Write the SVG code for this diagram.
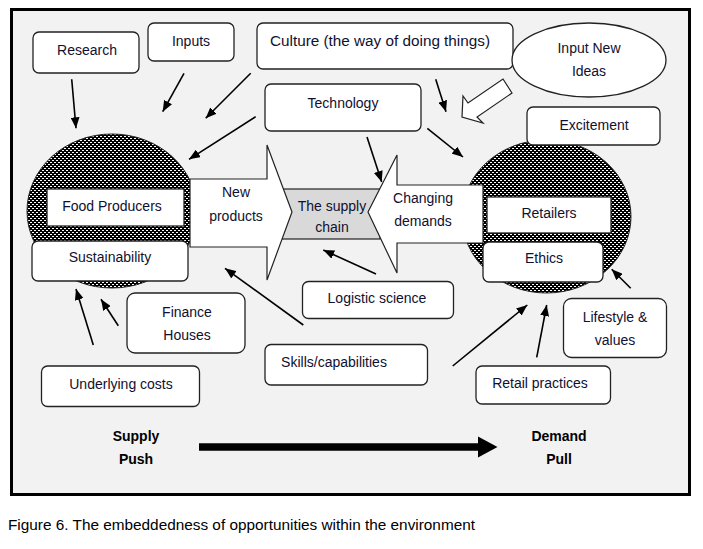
<svg xmlns="http://www.w3.org/2000/svg" width="703" height="549" viewBox="0 0 703 549">
<style>
.box{fill:#fff;stroke:#222;stroke-width:1.3}
.t{font-family:"Liberation Sans",Arial,sans-serif;font-size:14px;fill:#101030;text-anchor:middle}
.b{font-family:"Liberation Sans",Arial,sans-serif;font-size:14px;font-weight:bold;fill:#000;text-anchor:middle}
.con{stroke:#000;stroke-width:1.6;fill:none;marker-end:url(#ah)}
.hat{fill:url(#hatch);stroke:#222;stroke-width:1}
.blk{fill:#fff;stroke:#222;stroke-width:1.2}
</style>
<defs>
<pattern id="hatch" width="4" height="4" patternUnits="userSpaceOnUse">
<rect width="4" height="4" fill="#000"/>
<rect x="0" y="0" width="2" height="1" fill="#fff"/>
<rect x="2" y="2" width="2" height="1" fill="#fff"/>
</pattern>
<marker id="ah" markerWidth="11" markerHeight="9" refX="11" refY="4.5" orient="auto" markerUnits="userSpaceOnUse">
<path d="M0,0 L11,4.5 L0,9 z" fill="#000"/>
</marker>
</defs>
<rect x="0" y="0" width="703" height="549" fill="#fff"/>
<rect id="frame" x="11.5" y="9.5" width="678" height="485" fill="#f2f2f2" stroke="#000" stroke-width="3"/>

<g id="food-ellipse"><ellipse class="hat" cx="112" cy="211" rx="85" ry="77"/></g>
<g id="retail-ellipse"><ellipse class="hat" cx="546.5" cy="216.5" rx="84.5" ry="76.5"/></g>

<g id="supply-chain">
<rect x="282" y="189" width="98" height="50" fill="#d9d9d9" stroke="#222" stroke-width="1.2"/>
</g>
<g id="new-products">
<polygon class="blk" points="190,179 267,179 267,145 292,212 267,280 267,247 190,247"/>
<text class="t" x="236" y="197">New</text>
<text class="t" x="236" y="221">products</text>
</g>
<g id="changing-demands">
<polygon class="blk" points="483,185 397,185 397,155 368,212 397,273 397,243 483,243"/>
<text class="t" x="423" y="203">Changing</text>
<text class="t" x="423" y="226">demands</text>
</g>
<g id="supply-chain-label">
<text class="t" x="332" y="211">The supply</text>
<text class="t" x="332" y="232">chain</text>
</g>

<g id="food-producers"><rect x="47" y="189" width="137" height="37" fill="#fff" stroke="#222" stroke-width="1.3"/><text class="t" x="112" y="211">Food Producers</text></g>
<g id="sustainability"><rect class="box" x="32" y="241" width="156" height="40" rx="6"/><text class="t" x="110" y="262">Sustainability</text></g>
<g id="retailers"><rect x="487" y="197" width="124" height="36" fill="#fff" stroke="#222" stroke-width="1.3"/><text class="t" x="549" y="218">Retailers</text></g>
<g id="ethics"><rect class="box" x="483" y="242" width="120" height="40" rx="6"/><text class="t" x="544" y="263">Ethics</text></g>

<g id="research"><rect class="box" x="33" y="32" width="106" height="41" rx="6"/><text class="t" x="87" y="55">Research</text></g>
<g id="inputs"><rect class="box" x="148" y="23" width="86" height="38" rx="6"/><text class="t" x="191" y="46">Inputs</text></g>
<g id="culture"><rect class="box" x="257" y="23" width="256" height="46" rx="6"/><text class="t" x="380" y="46" textLength="220" lengthAdjust="spacingAndGlyphs">Culture (the way of doing things)</text></g>
<g id="input-new-ideas"><ellipse cx="589" cy="60" rx="77" ry="37" fill="#fff" stroke="#222" stroke-width="1.3"/><text class="t" x="589" y="53">Input New</text><text class="t" x="589" y="76">Ideas</text></g>
<g id="technology"><rect class="box" x="265" y="84" width="156" height="47" rx="6"/><text class="t" x="343" y="108">Technology</text></g>
<g id="excitement"><rect class="box" x="527" y="107" width="133" height="38" rx="6"/><text class="t" x="594" y="130">Excitement</text></g>
<g id="finance-houses"><rect class="box" x="127" y="293" width="118" height="60" rx="8"/><text class="t" x="187" y="317">Finance</text><text class="t" x="187" y="340">Houses</text></g>
<g id="logistic-science"><rect class="box" x="302.5" y="281.5" width="151" height="37" rx="6"/><text class="t" x="377" y="303">Logistic science</text></g>
<g id="skills"><rect class="box" x="265" y="344.5" width="162.5" height="40.5" rx="6"/><text class="t" x="334" y="367">Skills/capabilities</text></g>
<g id="lifestyle"><rect class="box" x="563.5" y="298.5" width="103" height="59" rx="8"/><text class="t" x="615" y="322">Lifestyle &amp;</text><text class="t" x="615" y="345">values</text></g>
<g id="underlying-costs"><rect class="box" x="41.5" y="366" width="158" height="40.5" rx="6"/><text class="t" x="121" y="389">Underlying costs</text></g>
<g id="retail-practices"><rect class="box" x="476" y="366" width="134.5" height="38" rx="6"/><text class="t" x="540" y="388">Retail practices</text></g>

<g id="connectors">
<line class="con" x1="71.7" y1="79.3" x2="76" y2="128.3"/>
<line class="con" x1="184" y1="73.3" x2="162.7" y2="111.7"/>
<line class="con" x1="250.7" y1="73.3" x2="205.7" y2="118.3"/>
<line class="con" x1="255.7" y1="116.7" x2="189" y2="159.3"/>
<line class="con" x1="435.7" y1="79.3" x2="446" y2="111.7"/>
<line class="con" x1="367" y1="137" x2="381.7" y2="182"/>
<line class="con" x1="427.3" y1="128.3" x2="463" y2="157"/>
<line class="con" x1="376" y1="274" x2="323.3" y2="250"/>
<line class="con" x1="303.3" y1="325" x2="225" y2="268.3"/>
<line class="con" x1="452.7" y1="366" x2="527.3" y2="305"/>
<line class="con" x1="536.7" y1="357.3" x2="546.7" y2="305"/>
<line class="con" x1="630.7" y1="288.3" x2="611.7" y2="269.3"/>
<line class="con" x1="118.3" y1="325.7" x2="101" y2="299.3"/>
<line class="con" x1="93.3" y1="345" x2="76" y2="289"/>
<polygon points="462,117 463,96 468,103 503,79 512,93 477,117 483,123" fill="#fff" stroke="#222" stroke-width="1.2"/>
<path d="M199,447 L479,447" stroke="#000" stroke-width="7.5"/>
<polygon points="478,436.5 497.5,447 478,457.5" fill="#000"/>
</g>

<g id="labels">
<text class="b" x="136" y="441">Supply</text>
<text class="b" x="136" y="464">Push</text>
<text class="b" x="559" y="441">Demand</text>
<text class="b" x="559" y="464">Pull</text>
</g>
<text x="8" y="530" font-family="Liberation Sans, Arial, sans-serif" font-size="14" fill="#000" textLength="467" lengthAdjust="spacingAndGlyphs">Figure 6. The embeddedness of opportunities within the environment</text>
</svg>
